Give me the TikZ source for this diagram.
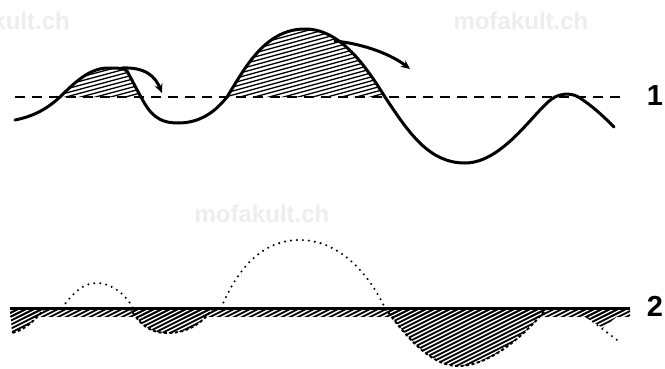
\documentclass[tikz,border=0pt]{standalone}
\usepackage{fontspec}
\setmainfont{Liberation Sans}
\usetikzlibrary{arrows.meta}
\begin{document}
\begin{tikzpicture}[x=1pt,y=-1pt,
  wave/.style={line width=3pt, line cap=round, line join=round},
  level/.style={line width=2pt, dash pattern=on 10pt off 7pt},
  base/.style={line width=3pt},
  tophatch/.style={line width=1.3pt},
  bothatch/.style={line width=1.8pt},
  dotline/.style={line width=2.3pt, line cap=round, dash pattern=on 0pt off 6pt},
  rim/.style={line width=2pt, dash pattern=on 3pt off 2.5pt},
  breaker/.style={wave, -{Stealth[length=9pt,width=8pt]}},
  wm/.style={font=\bfseries\fontsize{24}{24}\selectfont, text=black!7, inner sep=0pt},
  lbl/.style={font=\bfseries\fontsize{29}{29}\selectfont, inner sep=0pt}]
\useasboundingbox (0,0) rectangle (665,368);
% watermarks
\node[wm, anchor=east] (wmA) at (70,21) {mofakult.ch};
\node[wm] (wmB) at (521,21) {mofakult.ch};
\node[wm] (wmC) at (262,214) {mofakult.ch};

% ---------- profile 1 ----------
\begin{scope}
\clip (60,97) .. controls (75,82) and (90,68) .. (108,68)
  .. controls (118,68) and (124,68) .. (127,71)
  .. controls (132,80) and (137,90) .. (141,97) -- cycle;
\foreach \k in {0,...,30} \draw[tophatch] (40,60+4*\k) -- (170,25+4*\k);
\end{scope}
\begin{scope}
\clip (227,97) .. controls (245,68) and (265,29) .. (305,29)
  .. controls (340,29) and (365,65) .. (385,97) -- cycle;
\foreach \k in {0,...,45} \draw[tophatch] (200,20+4*\k) -- (400,-35+4*\k);
\end{scope}

\draw[level] (15,97) -- (622,97);

\draw[wave] (15,120) .. controls (35,116) and (48,108) .. (60,97)
  .. controls (75,82) and (90,68) .. (108,68)
  .. controls (118,68) and (124,68) .. (127,71)
  .. controls (132,80) and (137,90) .. (141,97)
  .. controls (150,114) and (158,123) .. (178,123)
  .. controls (200,123) and (215,112) .. (227,97)
  .. controls (245,68) and (265,29) .. (305,29)
  .. controls (340,29) and (365,65) .. (385,97)
  .. controls (410,135) and (430,163) .. (465,163)
  .. controls (505,163) and (538,105) .. (555,97)
  .. controls (563,93) and (573,93) .. (580,98)
  .. controls (595,108) and (605,118) .. (614,127);

\draw[breaker] (122,68) .. controls (145,67) and (155,76) .. (162,93);
\draw[breaker] (335,41) .. controls (365,44) and (392,55) .. (410,69);

\node[lbl] (one) at (655,96) {1};

% ---------- profile 2 ----------
\newcommand\bothatches{\foreach \k in {-20,...,95} \draw[bothatch] (\k*8-100,380) -- (\k*8+60,300);}
\begin{scope}
\clip (10,308) rectangle (630,316);
\bothatches
\end{scope}
\begin{scope}
\clip (10,308) -- (45,308) .. controls (35,320) and (25,330) .. (12,333) -- cycle;
\bothatches
\end{scope}
\begin{scope}
\clip (130,308) .. controls (140,325) and (150,333) .. (168,333)
  .. controls (190,333) and (205,320) .. (213,308) -- cycle;
\bothatches
\end{scope}
\begin{scope}
\clip (385,308) .. controls (405,335) and (430,366) .. (458,366)
  .. controls (490,366) and (525,335) .. (547,308) -- cycle;
\bothatches
\end{scope}
\begin{scope}
\clip (570,308) -- (603,328) -- (625,310) -- (628,308) -- cycle;
\bothatches
\end{scope}

\draw[rim] (45,308) .. controls (35,320) and (25,330) .. (12,333);
\draw[rim] (130,308) .. controls (140,325) and (150,333) .. (168,333)
  .. controls (190,333) and (205,320) .. (213,308);
\draw[rim] (385,308) .. controls (405,335) and (430,366) .. (458,366)
  .. controls (490,366) and (525,335) .. (547,308);

\draw[base] (10,308) -- (630,308);

\draw[dotline] (62,308) .. controls (75,290) and (85,283) .. (97,283)
  .. controls (110,283) and (125,293) .. (133,308);
\draw[dotline] (221,308) .. controls (238,268) and (262,240) .. (300,240)
  .. controls (338,240) and (368,272) .. (385,308);
\draw[dotline] (588,318) -- (617,340);

\node[lbl] (two) at (655,306) {2};
\end{tikzpicture}
\end{document}
